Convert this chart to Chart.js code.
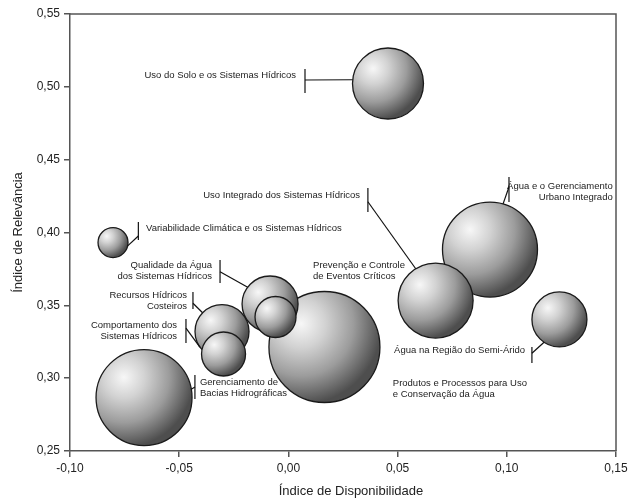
<!DOCTYPE html>
<html>
<head>
<meta charset="utf-8">
<script src="https://cdn.jsdelivr.net/npm/chart.js@4.4.1/dist/chart.umd.min.js"></script>
<style>
html,body{margin:0;padding:0;background:#fff;}
#wrap{width:634px;height:500px;position:relative;}
canvas{display:block;}
</style>
</head>
<body>
<div id="wrap"><canvas id="c" width="634" height="500"></canvas></div>
<script>
// ---- data (drawing order: larger/back bubbles first) ----
const temas = [
  "Prevenção e Controle de Eventos Críticos",
  "Qualidade da Água dos Sistemas Hídricos",
  "Produtos e Processos para Uso e Conservação da Água",
  "Recursos Hídricos Costeiros",
  "Comportamento dos Sistemas Hídricos",
  "Gerenciamento de Bacias Hidrográficas",
  "Variabilidade Climática e os Sistemas Hídricos",
  "Uso do Solo e os Sistemas Hídricos",
  "Água e o Gerenciamento Urbano Integrado",
  "Uso Integrado dos Sistemas Hídricos",
  "Água na Região do Semi-Árido"
];
const disponibilidade = [0.0165, -0.0084, -0.0059, -0.0304, -0.0297, -0.0661, -0.0803, 0.0456, 0.0923, 0.0674, 0.1241];
const relevancia      = [0.3214, 0.3509, 0.3420, 0.3320, 0.3166, 0.2867, 0.3931, 0.5023, 0.3883, 0.3533, 0.3403];
const tamanho         = [55.5, 28, 20.5, 27, 22, 48, 15, 35.5, 47.5, 37.5, 27.5];

const xTicks = [-0.10, -0.05, 0.00, 0.05, 0.10, 0.15];
const yTicks = [0.25, 0.30, 0.35, 0.40, 0.45, 0.50, 0.55];
const xTitulo = "Índice de Disponibilidade";
const yTitulo = "Índice de Relevância";

// ---- annotation layout (in data units) ----
const rotulos = [
  {tema:7, linhas:["Uso do Solo e os Sistemas Hídricos"], x:0.0035, y:0.5081, alinh:'right',
   chave:{x:0.0076, y1:0.5122, y2:0.4958, y:0.5047, ang:186}},
  {tema:6, linhas:["Variabilidade Climática e os Sistemas Hídricos"], x:-0.0652, y:0.4031, alinh:'left',
   chave:{x:-0.0687, y1:0.4072, y2:0.3949, y:0.3976, ang:13}},
  {tema:9, linhas:["Uso Integrado dos Sistemas Hídricos"], x:0.0328, y:0.4257, alinh:'right',
   chave:{x:0.0364, y1:0.4306, y2:0.4141, y:0.4211, ang:238}},
  {tema:8, linhas:["Água e o Gerenciamento","Urbano Integrado"], x:0.1485, y:0.4319, alinh:'right',
   chave:{x:0.1010, y1:0.4381, y2:0.4209, y:0.4312, ang:286}},
  {tema:1, linhas:["Qualidade da Água","dos Sistemas Hídricos"], x:-0.0350, y:0.3777, alinh:'right',
   chave:{x:-0.0313, y1:0.3811, y2:0.3653, y:0.3731, ang:217}},
  {tema:3, linhas:["Recursos Hídricos","Costeiros"], x:-0.0464, y:0.3571, alinh:'right',
   chave:{x:-0.0437, y1:0.3592, y2:0.3475, y:0.3514, ang:224}},
  {tema:3, linhas:["Comportamento dos","Sistemas Hídricos"], x:-0.0510, y:0.3365, alinh:'right',
   chave:{x:-0.0469, y1:0.3406, y2:0.3241, y:0.3344, ang:145}},
  {tema:5, linhas:["Gerenciamento de","Bacias Hidrográficas"], x:-0.0405, y:0.2974, alinh:'left',
   chave:{x:-0.0428, y1:0.3022, y2:0.2857, y:0.2939, ang:350}},
  {tema:0, linhas:["Prevenção e Controle","de Eventos Críticos"], x:0.0113, y:0.3777, alinh:'left', chave:null},
  {tema:10, linhas:["Água na Região do Semi-Árido"], x:0.0484, y:0.3193, alinh:'left',
   chave:{x:0.1115, y1:0.3214, y2:0.3104, y:0.3171, ang:124}},
  {tema:2, linhas:["Produtos e Processos para Uso","e Conservação da Água"], x:0.0478, y:0.2967, alinh:'left', chave:null}
];

const pontos = temas.map((t, i) => ({x: disponibilidade[i], y: relevancia[i], r: tamanho[i], label: t}));

const FONT = '"Liberation Sans", Arial, Helvetica, sans-serif';
const AXIS = '#555';

function esfera(ctx) {
  const chart = ctx.chart;
  if (!chart.chartArea || ctx.type !== 'data' || !ctx.raw) return '#aaaaaa';
  const raw = ctx.raw;
  const cx = chart.scales.x.getPixelForValue(raw.x);
  const cy = chart.scales.y.getPixelForValue(raw.y);
  const r = raw.r;
  const hx = cx - 0.42 * r, hy = cy - 0.42 * r;
  const g = chart.ctx.createRadialGradient(hx, hy, 0, hx, hy, r * 1.45);
  g.addColorStop(0, '#f7f7f7');
  g.addColorStop(0.3, '#d2d2d2');
  g.addColorStop(0.65, '#9c9c9c');
  g.addColorStop(1, '#4e4e4e');
  return g;
}

const fmt = v => (Math.round(v * 100) / 100).toFixed(2).replace('.', ',');

const extras = {
  id: 'extras',
  beforeDatasetsDraw(chart) {
    const {ctx, chartArea: a} = chart;
    ctx.save();
    ctx.strokeStyle = AXIS;
    ctx.lineWidth = 1.5;
    ctx.beginPath();
    ctx.moveTo(a.left, a.top);
    ctx.lineTo(a.right, a.top);
    ctx.lineTo(a.right, a.bottom);
    ctx.stroke();
    ctx.restore();
  },
  afterDatasetsDraw(chart) {
    const {ctx} = chart;
    const sx = chart.scales.x, sy = chart.scales.y;
    ctx.save();
    ctx.font = '9.5px ' + FONT;
    ctx.fillStyle = '#222';
    ctx.textBaseline = 'middle';
    ctx.strokeStyle = '#111';
    ctx.lineWidth = 1.2;
    rotulos.forEach(rt => {
      const tx = sx.getPixelForValue(rt.x);
      const ty = sy.getPixelForValue(rt.y);
      ctx.textAlign = rt.alinh;
      rt.linhas.forEach((l, k) => ctx.fillText(l, tx, ty + k * 11));
      if (rt.chave) {
        const c = rt.chave;
        const bx = sx.getPixelForValue(c.x);
        ctx.beginPath();
        ctx.moveTo(bx, sy.getPixelForValue(c.y1));
        ctx.lineTo(bx, sy.getPixelForValue(c.y2));
        ctx.stroke();
        const p = pontos[rt.tema];
        const cx = sx.getPixelForValue(p.x), cy = sy.getPixelForValue(p.y);
        const ang = c.ang * Math.PI / 180;
        ctx.beginPath();
        ctx.moveTo(bx, sy.getPixelForValue(c.y));
        ctx.lineTo(cx + p.r * Math.cos(ang), cy + p.r * Math.sin(ang));
        ctx.stroke();
      }
    });
    ctx.restore();
  },
  afterDraw(chart) {
    const {ctx, chartArea: a} = chart;
    ctx.save();
    ctx.fillStyle = '#222';
    ctx.font = '13px ' + FONT;
    ctx.textAlign = 'center';
    ctx.textBaseline = 'middle';
    ctx.fillText(xTitulo, (a.left + a.right) / 2 + 8, 491);
    ctx.translate(18, (a.top + a.bottom) / 2);
    ctx.rotate(-Math.PI / 2);
    ctx.fillText(yTitulo, 0, 0);
    ctx.restore();
  }
};

new Chart(document.getElementById('c'), {
  type: 'bubble',
  data: {
    labels: temas,
    datasets: [{
      label: 'Temas',
      data: pontos,
      backgroundColor: esfera,
      borderColor: '#1a1a1a',
      borderWidth: 1.3,
      hoverBorderWidth: 1.3,
      hoverRadius: 0,
      clip: false
    }]
  },
  options: {
    responsive: false,
    animation: false,
    events: [],
    layout: {autoPadding: false, padding: {left: 0, right: 18, top: 14, bottom: 0}},
    plugins: {legend: {display: false}, tooltip: {enabled: false}},
    scales: {
      x: {
        type: 'linear', min: -0.10, max: 0.15,
        afterBuildTicks: s => { s.ticks = xTicks.map(v => ({value: v})); },
        afterFit: s => { s.height = 49; },
        ticks: {callback: fmt, color: '#222', font: {family: FONT, size: 12}, padding: 4, maxRotation: 0, autoSkip: false},
        grid: {drawOnChartArea: false, drawTicks: true, tickLength: 6, color: AXIS, lineWidth: 1.5},
        border: {display: true, color: AXIS, width: 1.5},
        title: {display: false}
      },
      y: {
        type: 'linear', min: 0.25, max: 0.55,
        afterBuildTicks: s => { s.ticks = yTicks.map(v => ({value: v})); },
        afterFit: s => { s.width = 70; },
        ticks: {callback: fmt, color: '#222', font: {family: FONT, size: 12}, padding: 4, autoSkip: false},
        grid: {drawOnChartArea: false, drawTicks: true, tickLength: 6, color: AXIS, lineWidth: 1.5},
        border: {display: true, color: AXIS, width: 1.5},
        title: {display: false}
      }
    }
  },
  plugins: [extras]
});
</script>
</body>
</html>
